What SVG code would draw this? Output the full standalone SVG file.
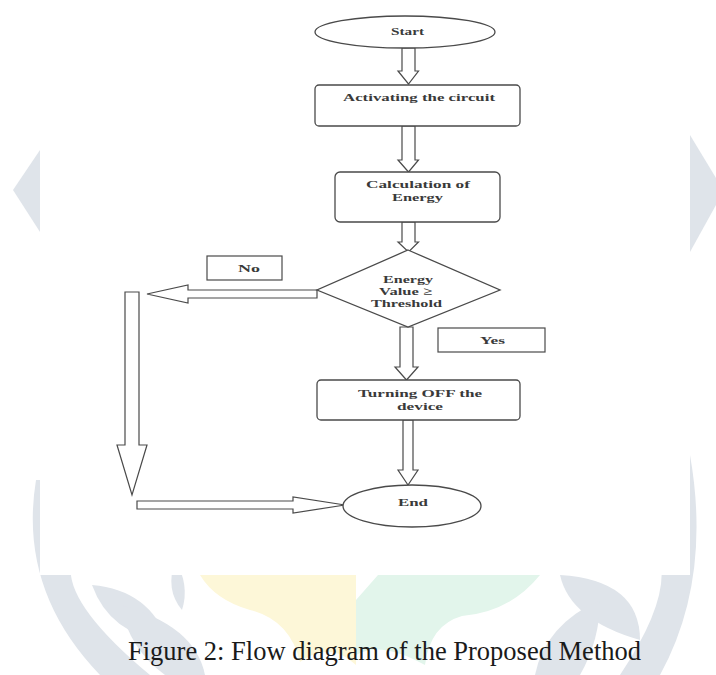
<svg xmlns="http://www.w3.org/2000/svg" width="716" height="675" viewBox="0 0 716 675">
  <style>
    .wm { fill: #dfe4ea; }
    .wmy { fill: #fdf7d8; }
    .wmg { fill: #e2f5eb; }
    .node { fill: #ffffff; stroke: #4a4a4a; stroke-width: 1.3; }
    .lbl { fill: #ffffff; stroke: #4a4a4a; stroke-width: 1.2; }
    .conn { fill: #ffffff; stroke: #4a4a4a; stroke-width: 1.2; stroke-linejoin: miter; }
    .t { font-family: "Liberation Serif", "Times New Roman", serif; font-weight: bold; font-size: 11px; fill: #3a3a3a; text-anchor: middle; dominant-baseline: central; }
    .cap { font-family: "Liberation Serif", "Times New Roman", serif; font-size: 26.5px; fill: #1a1a1a; }
  </style>

  <rect x="0" y="0" width="716" height="675" fill="#ffffff"/>

  <!-- faint watermark behind the figure -->
  <g id="watermark">
    <polygon class="wm" points="40,150 13,190 40,232"/>
    <polygon class="wm" points="690,135 716,178 716,205 690,252"/>
    <path class="wm" d="M 36,480 Q 18,590 100,675 L 150,675 Q 60,600 72,560 L 72,480 Z"/>
    <path class="wm" d="M 92,585 Q 150,590 168,642 Q 110,635 92,585 Z"/>
    <path class="wm" d="M 120,605 Q 195,625 205,675 L 165,675 Q 130,650 120,605 Z"/>
    <path class="wm" d="M 175,560 Q 190,585 182,610 Q 165,590 175,560 Z"/>
    <path class="wmy" d="M 200,575 L 356,575 L 356,665 Q 330,640 300,662 Q 290,620 250,610 Q 215,600 200,575 Z"/>
    <path class="wmg" d="M 378,575 L 540,575 Q 510,612 462,616 Q 430,625 425,665 Q 380,640 356,655 L 356,600 Z"/>
    <path class="wm" d="M 560,575 Q 640,580 640,640 Q 570,620 560,575 Z"/>
    <path class="wm" d="M 600,600 Q 545,625 535,675 L 580,675 Q 600,640 600,600 Z"/>
    <path class="wm" d="M 690,455 Q 712,580 660,675 L 620,675 Q 670,600 660,560 L 660,455 Z"/>
  </g>

  <!-- white figure panel -->
  <rect x="40" y="0" width="650" height="575" fill="#ffffff"/>

  <g id="connectors">
    <polygon class="conn" points="402,48 415,48 415,71 418.5,71 408.5,84 398,71 402,71"/>
    <polygon class="conn" points="402,126 415,126 415,160 418.5,160 408.5,172 398,160 402,160"/>
    <polygon class="conn" points="402,222 415,222 415,242 418.5,242 408.5,252 398,242 402,242"/>
    <polygon class="conn" points="400,327 413,327 413,367 418,367 406.5,380 395,367 400,367"/>
    <polygon class="conn" points="403,420 413,420 413,470 418,470 408,485 398,470 403,470"/>
    <polygon class="conn" points="317,290 317,298 188,298 188,303 147,294 188,285 188,290"/>
    <polygon class="conn" points="125,292 139,292 139,445 147,445 132,495 117,445 125,445"/>
    <polygon class="conn" points="137,501 293,501 293,497 345,505 293,513 293,509 137,509"/>
  </g>

  <g id="start">
    <ellipse class="node" cx="405" cy="32" rx="90" ry="16"/>
    <text class="t" x="407.5" y="31" textLength="33" lengthAdjust="spacingAndGlyphs">Start</text>
  </g>

  <g id="activating">
    <rect class="node" x="315" y="85" width="205" height="41" rx="4"/>
    <text class="t" x="419" y="97" textLength="152" lengthAdjust="spacingAndGlyphs">Activating the circuit</text>
  </g>

  <g id="calculation">
    <rect class="node" x="335" y="172" width="165" height="50" rx="5"/>
    <text class="t" x="418" y="184" textLength="104" lengthAdjust="spacingAndGlyphs">Calculation of</text>
    <text class="t" x="417.5" y="197" textLength="51" lengthAdjust="spacingAndGlyphs">Energy</text>
  </g>

  <g id="decision">
    <polygon class="node" points="408,250 500,290 408,327 317,290"/>
    <text class="t" x="408" y="279" textLength="50" lengthAdjust="spacingAndGlyphs">Energy</text>
    <text class="t" x="405.5" y="291" textLength="53" lengthAdjust="spacingAndGlyphs">Value ≥</text>
    <text class="t" x="406.5" y="303" textLength="71" lengthAdjust="spacingAndGlyphs">Threshold</text>
  </g>

  <g id="label-no">
    <rect class="lbl" x="207" y="256" width="75" height="24"/>
    <text class="t" x="249" y="268" textLength="22" lengthAdjust="spacingAndGlyphs">No</text>
  </g>

  <g id="label-yes">
    <rect class="lbl" x="438" y="328" width="107" height="24"/>
    <text class="t" x="492.5" y="340" textLength="25" lengthAdjust="spacingAndGlyphs">Yes</text>
  </g>

  <g id="turning-off">
    <rect class="node" x="317" y="380" width="203" height="40" rx="4"/>
    <text class="t" x="420" y="393" textLength="124" lengthAdjust="spacingAndGlyphs">Turning OFF the</text>
    <text class="t" x="420" y="406" textLength="46" lengthAdjust="spacingAndGlyphs">device</text>
  </g>

  <g id="end">
    <ellipse class="node" cx="412" cy="506" rx="69" ry="21"/>
    <text class="t" x="413" y="502" textLength="30" lengthAdjust="spacingAndGlyphs">End</text>
  </g>

  <text class="cap" x="128" y="660" textLength="513" lengthAdjust="spacingAndGlyphs">Figure 2: Flow diagram of the Proposed Method</text>
</svg>
